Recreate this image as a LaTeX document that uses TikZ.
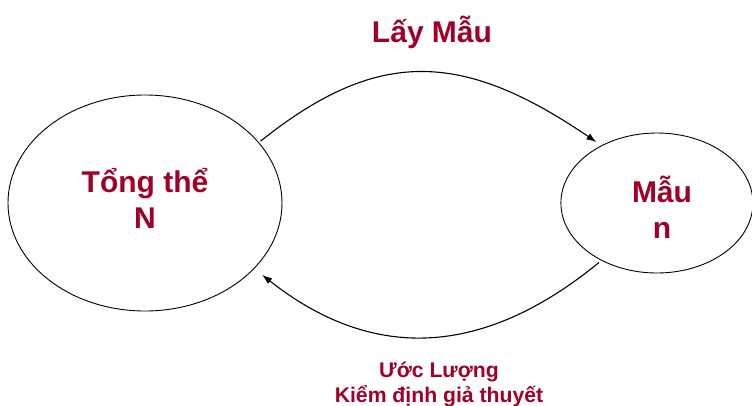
\documentclass[tikz,border=0pt]{standalone}
\usepackage{fontspec}
\setmainfont{Liberation Sans}
\usepackage{tikz}
\usetikzlibrary{positioning,arrows.meta,shapes.geometric}
\definecolor{doden}{HTML}{A00028}

\begin{document}
\begin{tikzpicture}[x=1pt, y=-1pt, node distance=278pt,
  vong/.style={ellipse, draw=black, line width=0.9pt, inner sep=0pt},
  chu/.style={text=doden, font=\bfseries\fontsize{30}{36}\selectfont, align=center},
  chunho/.style={text=doden, font=\bfseries\fontsize{21.2}{25}\selectfont, align=center},
  muiten/.style={-{Latex[length=10pt,width=7pt]}, line width=1.1pt}]
  \useasboundingbox (0,0) rectangle (752,405);
  \node[vong, minimum width=274pt, minimum height=216pt] (tongthe) at (145,203) {};
  \node[vong, minimum width=192pt, minimum height=140pt, right=of tongthe] (mau) {};
  \node[chu, anchor=base] (tongtheChu) at (145,228) {Tổng thể\\N};
  \node[chu, anchor=base] (mauChu) at (662,238) {Mẫu\\n};
  \node[chu, anchor=base] (layMau) at (432,42) {Lấy Mẫu};
  \node[chunho, anchor=base] (uocLuong) at (439,402) {Ước Lượng\\Kiểm định giả thuyết};
  \draw[muiten, shorten <=2pt, shorten >=6pt] (tongthe.28) .. controls (376,49) and (460,49) .. (mau.134);
  \draw[muiten, shorten <=3pt, shorten >=10pt] (mau.226) .. controls (480,360) and (370,360) .. (tongthe.-31);
\end{tikzpicture}
\end{document}
